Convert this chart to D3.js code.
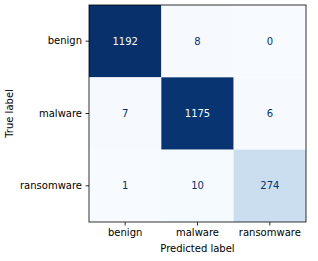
<!DOCTYPE html>
<html>
<head>
<meta charset="utf-8">
<script src="https://cdn.jsdelivr.net/npm/d3@7"></script>
<style>
  body { margin: 0; background: #fff; }
  text { font-family: "DejaVu Sans", sans-serif; }
</style>
</head>
<body>
<div id="chart"></div>
<script>
// class names and confusion counts (rows = true, cols = predicted)
var labels = ["benign", "malware", "ransomware"];
var row_benign = [1192, 8, 0];
var row_malware = [7, 1175, 6];
var row_ransomware = [1, 10, 274];
var matrix = [row_benign, row_malware, row_ransomware];

var svgWidth = 318, svgHeight = 261;
var margin = {top: 5, left: 89, right: 12, bottom: 39};
var width = 217, height = 217;

var svg = d3.select("#chart").append("svg")
    .attr("width", svgWidth)
    .attr("height", svgHeight);

var chartGroup = svg.append("g")
    .attr("transform", `translate(${margin.left}, ${margin.top})`);

var xScale = d3.scaleBand().domain(labels).range([0, width]);
var yScale = d3.scaleBand().domain(labels).range([0, height]);

// matplotlib "Blues" stops
var blues = ["#f7fbff", "#deebf7", "#c6dbef", "#9ecae1", "#6baed6", "#4292c6", "#2171b5", "#08519c", "#08306b"];
var allVals = [].concat(...matrix);
var vmin = d3.min(allVals), vmax = d3.max(allVals);
var color = d3.scaleLinear()
    .domain(blues.map((c, i) => vmin + (vmax - vmin) * i / (blues.length - 1)))
    .range(blues);

var cells = [];
matrix.forEach(function(row, i) {
    row.forEach(function(v, j) {
        cells.push({t: labels[i], p: labels[j], v: v});
    });
});

chartGroup.selectAll("rect.cell")
    .data(cells)
    .enter()
    .append("rect")
    .attr("class", "cell")
    .attr("x", d => xScale(d.p))
    .attr("y", d => yScale(d.t))
    .attr("width", xScale.bandwidth())
    .attr("height", yScale.bandwidth())
    .attr("fill", d => color(d.v));

var thresh = (vmin + vmax) / 2;
chartGroup.selectAll("text.val")
    .data(cells)
    .enter()
    .append("text")
    .attr("class", "val")
    .attr("x", d => xScale(d.p) + xScale.bandwidth() / 2)
    .attr("y", d => yScale(d.t) + yScale.bandwidth() / 2)
    .attr("dy", "0.35em")
    .style("text-anchor", "middle")
    .style("font-size", "10px")
    .style("fill", d => d.v > thresh ? "#f7fbff" : "#08306b")
    .text(d => d.v);

// frame
chartGroup.append("rect")
    .attr("width", width)
    .attr("height", height)
    .attr("fill", "none")
    .attr("stroke", "#000")
    .attr("stroke-width", 0.8);

var xAxis = d3.axisBottom(xScale).tickSize(3.5).tickPadding(3.5);
var yAxis = d3.axisLeft(yScale).tickSize(3.5).tickPadding(3.5);

var gx = chartGroup.append("g")
    .attr("transform", `translate(0, ${height})`)
    .call(xAxis);
var gy = chartGroup.append("g").call(yAxis);

[gx, gy].forEach(function(g) {
    g.select(".domain").remove();
    g.selectAll("line").attr("stroke", "#000").attr("stroke-width", 0.8);
    g.selectAll("text").style("font-size", "10px").style("font-family", "DejaVu Sans").attr("fill", "#000");
});

svg.append("text")
    .attr("x", margin.left + width / 2)
    .attr("y", 252)
    .style("text-anchor", "middle")
    .style("font-size", "10px")
    .text("Predicted label");

svg.append("text")
    .attr("transform", `translate(13, ${margin.top + height / 2}) rotate(-90)`)
    .style("text-anchor", "middle")
    .style("font-size", "10px")
    .text("True label");
</script>
</body>
</html>
